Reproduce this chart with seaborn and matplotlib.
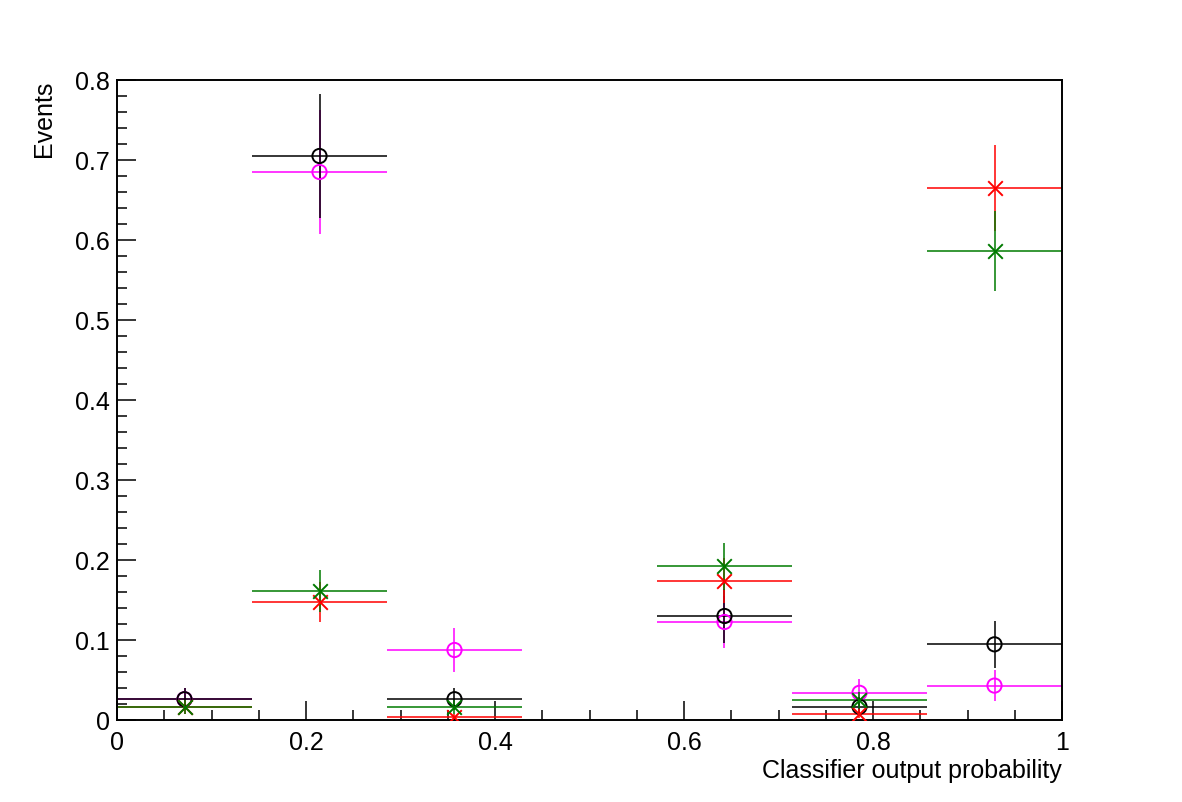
import numpy as np
import pandas as pd
import matplotlib
matplotlib.use("Agg")
import matplotlib.pyplot as plt
import seaborn as sns
from matplotlib.ticker import MultipleLocator, FuncFormatter

# ---- data (7 bins from 0 to 1; bin 4 empty) ----
bin_edges = np.linspace(0, 1, 8)
black_vals = [0.026, 0.705, 0.026, np.nan, 0.130, 0.0166, 0.0946]
black_errs = [0.014, 0.078, 0.014, np.nan, 0.034, 0.012, 0.029]
magenta_vals = [0.026, 0.685, 0.0875, np.nan, 0.1225, 0.034, 0.043]
magenta_errs = [0.014, 0.077, 0.027, np.nan, 0.0325, 0.017, 0.019]
red_vals = [0.0166, 0.148, 0.004, np.nan, 0.174, 0.008, 0.665]
red_errs = [0.009, 0.025, 0.004, np.nan, 0.028, 0.006, 0.054]
green_vals = [0.0166, 0.161, 0.0166, np.nan, 0.192, 0.025, 0.586]
green_errs = [0.009, 0.026, 0.009, np.nan, 0.029, 0.010, 0.050]

series_colors = {"black": "#000000", "magenta": "#ff00ff", "red": "#ff0000", "green": "#007a00"}
series_markers = {"black": "o", "magenta": "o", "red": "x", "green": "x"}

centers = 0.5 * (bin_edges[:-1] + bin_edges[1:])
half_w = 0.5 * np.diff(bin_edges)

rows = []
for name, vals, errs in [("green", green_vals, green_errs), ("red", red_vals, red_errs),
                         ("magenta", magenta_vals, magenta_errs), ("black", black_vals, black_errs)]:
    for c, hw, v, e in zip(centers, half_w, vals, errs):
        if not np.isnan(v):
            rows.append({"x": c, "xerr": hw, "y": v, "yerr": e, "series": name})
df = pd.DataFrame(rows)

sns.set_theme(style="ticks")
plt.rcParams["font.family"] = ["Liberation Sans", "DejaVu Sans"]
plt.rcParams["text.color"] = "black"
plt.rcParams["axes.labelcolor"] = "black"
plt.rcParams["xtick.color"] = "black"
plt.rcParams["ytick.color"] = "black"

fig = plt.figure(figsize=(11.82, 8.03), dpi=100)
ax = fig.add_axes([117 / 1182, 1 - 721 / 803, 945 / 1182, 640 / 803])

order = ["magenta", "black", "red", "green"]
for name in order:
    sub = df[df["series"] == name]
    ax.errorbar(sub["x"], sub["y"], xerr=sub["xerr"], yerr=sub["yerr"], fmt="none",
                ecolor=series_colors[name], elinewidth=1.1, capsize=0, zorder=2)

for name in order:
    sub = df[df["series"] == name]
    if series_markers[name] == "o":
        sns.scatterplot(data=sub, x="x", y="y", ax=ax, marker="o", s=105,
                        facecolor="none", edgecolor=series_colors[name], linewidth=1.4,
                        legend=False, zorder=3)
    else:
        sns.scatterplot(data=sub, x="x", y="y", ax=ax, marker="x", s=110,
                        color=series_colors[name], linewidth=1.4,
                        legend=False, zorder=3)

ax.set_xlim(0, 1)
ax.set_ylim(0, 0.8)
ax.xaxis.set_major_locator(MultipleLocator(0.2))
ax.xaxis.set_minor_locator(MultipleLocator(0.05))
ax.yaxis.set_major_locator(MultipleLocator(0.1))
ax.yaxis.set_minor_locator(MultipleLocator(0.02))
ax.xaxis.set_major_formatter(FuncFormatter(lambda v, p: f"{v:g}"))
ax.yaxis.set_major_formatter(FuncFormatter(lambda v, p: f"{v:g}"))

ax.tick_params(axis="both", which="major", direction="in", length=14, width=1.1,
               labelsize=18, color="black", labelcolor="black", top=False, right=False)
ax.tick_params(axis="both", which="minor", direction="in", length=7.5, width=1.1,
               top=False, right=False)
ax.tick_params(axis="x", which="major", pad=7)
ax.tick_params(axis="y", which="major", pad=5)
for sp in ax.spines.values():
    sp.set_visible(True)
    sp.set_linewidth(1.4)
    sp.set_color("black")

ax.set_xlabel("Classifier output probability", fontsize=18, loc="right", labelpad=3, color="black")
ax.set_ylabel("Events", fontsize=18, loc="top", labelpad=14, color="black")
ax.grid(False)

fig.savefig("out.png", dpi=100)
